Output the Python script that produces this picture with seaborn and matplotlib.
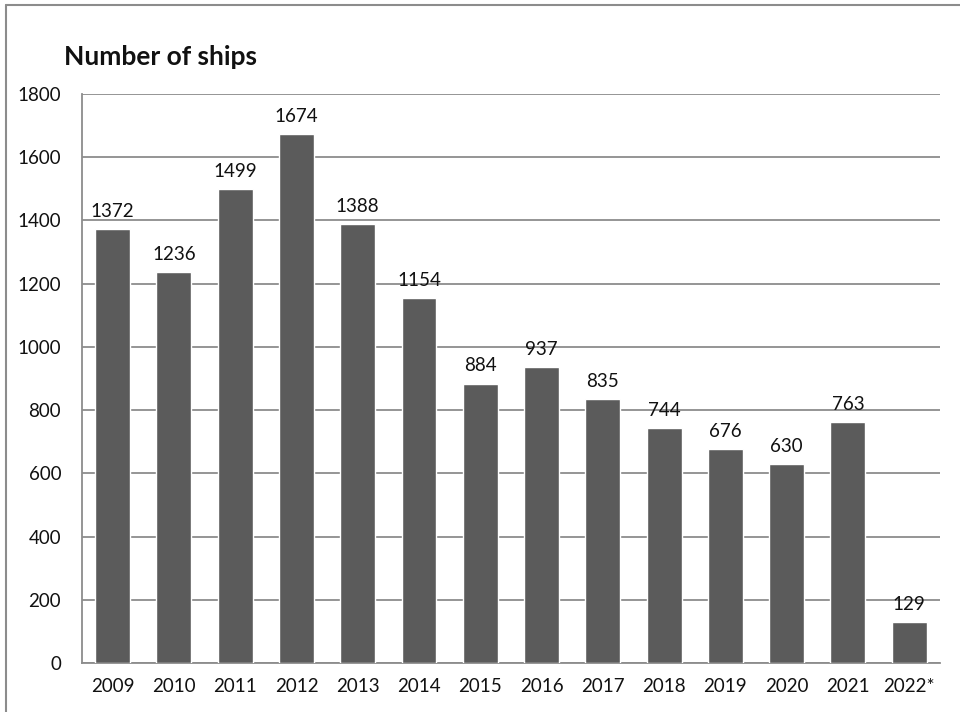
import matplotlib as mpl
mpl.use('agg')
import matplotlib.pyplot as plt
from matplotlib.lines import Line2D
import pandas as pd
import seaborn as sns

# data
years = ['2009', '2010', '2011', '2012', '2013', '2014', '2015', '2016',
         '2017', '2018', '2019', '2020', '2021', '2022*']
ships = [1372, 1236, 1499, 1674, 1388, 1154, 884, 937, 835, 744, 676, 630, 763, 129]

df = pd.DataFrame({'year': years, 'ships': ships})

sns.set_style('white')
plt.rcParams['font.family'] = ['Lato', 'DejaVu Sans']

fig = plt.figure(figsize=(9.6, 7.12), dpi=100)
ax = fig.add_axes([0.0854, 0.0688, 0.8936, 0.7993])

sns.barplot(data=df, x='year', y='ships', color='#5b5b5b', saturation=1,
            width=0.57, ax=ax, zorder=3)

# grid and spines
ax.set_ylim(0, 1800)
ax.set_yticks(range(0, 1801, 200))
ax.yaxis.grid(True, color='#8c8c8c', linewidth=1.3, zorder=0)
ax.set_axisbelow(True)
for s in ['top', 'right']:
    ax.spines[s].set_visible(False)
for s in ['left', 'bottom']:
    ax.spines[s].set_color('#8c8c8c')
    ax.spines[s].set_linewidth(1.3)
ax.set_xlim(-0.5, len(years) - 0.5)
ax.tick_params(axis='both', length=0, labelsize=13.5, colors='#111111')
ax.tick_params(axis='y', pad=15)
ax.tick_params(axis='x', pad=11)
ax.set_xlabel('')
ax.set_ylabel('')

# value labels
for i, v in enumerate(ships):
    ax.annotate(str(v), (i, v), xytext=(0, 6.5), textcoords='offset points',
                ha='center', va='bottom', fontsize=13.5, color='#111111')

# title
fig.text(64 / 960, 1 - 57 / 712, 'Number of ships', fontsize=19, fontweight='bold',
         ha='left', va='center', color='#111111')

# outer frame (left and top edges)
fig.add_artist(Line2D([6 / 960, 6 / 960], [0, 1 - 5 / 712], transform=fig.transFigure,
                      color='#8c8c8c', linewidth=1.5))
fig.add_artist(Line2D([6 / 960, 1], [1 - 5 / 712, 1 - 5 / 712], transform=fig.transFigure,
                      color='#8c8c8c', linewidth=1.5))

plt.savefig('out.png', dpi=100)
